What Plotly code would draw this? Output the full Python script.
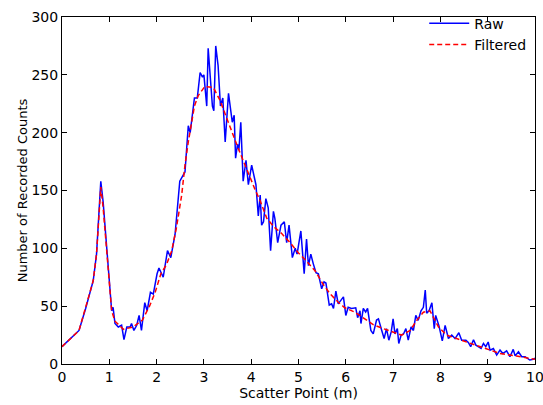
import plotly.graph_objects as go

# необработанные отсчёты (Raw)
raw_x = [0.00, 0.36, 0.50, 0.66, 0.73, 0.82, 0.87, 1.05, 1.08, 1.12, 1.19, 1.26, 1.31, 1.37, 1.44,
         1.47, 1.52, 1.58, 1.63, 1.68, 1.75, 1.80, 1.87, 1.93, 2.01, 2.05, 2.14, 2.23, 2.30, 2.39,
         2.49, 2.60, 2.67, 2.71, 2.80, 2.86, 2.92, 2.97, 3.00, 3.06, 3.09, 3.13, 3.18, 3.21, 3.25,
         3.30, 3.35, 3.40, 3.45, 3.52, 3.60, 3.64, 3.67, 3.71, 3.74, 3.78, 3.83, 3.89, 3.94, 4.01,
         4.10, 4.15, 4.19, 4.22, 4.26, 4.31, 4.36, 4.41, 4.47, 4.50, 4.56, 4.63, 4.70, 4.75, 4.80,
         4.87, 4.93, 4.97, 5.05, 5.12, 5.17, 5.21, 5.26, 5.31, 5.37, 5.42, 5.49, 5.54, 5.58, 5.65,
         5.70, 5.74, 5.79, 5.84, 5.90, 5.95, 6.00, 6.05, 6.12, 6.21, 6.25, 6.30, 6.32, 6.37, 6.42,
         6.46, 6.53, 6.58, 6.65, 6.69, 6.76, 6.81, 6.86, 6.91, 6.96, 7.00, 7.04, 7.09, 7.12, 7.17,
         7.22, 7.27, 7.32, 7.38, 7.43, 7.48, 7.53, 7.59, 7.64, 7.68, 7.71, 7.76, 7.82, 7.87, 7.90,
         7.97, 8.04, 8.10, 8.17, 8.24, 8.31, 8.39, 8.45, 8.54, 8.59, 8.64, 8.70, 8.75, 8.80, 8.86,
         8.91, 8.96, 9.01, 9.05, 9.12, 9.19, 9.26, 9.32, 9.40, 9.47, 9.54, 9.58, 9.65, 9.72, 9.79,
         9.86, 9.89, 9.96, 10.0]
raw_y = [15, 29, 48, 72, 95, 158, 140, 46, 49, 35, 32, 33.5, 21, 32, 32,
         35, 29, 33.5, 42, 29, 53, 46, 62, 60.5, 78, 83, 75, 98, 92, 112,
         158, 166, 206, 200, 230, 230, 252, 248, 250, 223, 273, 246, 223, 219, 275,
         258, 223, 230, 192, 234, 209, 215, 178, 190, 185, 209, 158, 176, 155, 172,
         155, 128, 146, 120, 123, 143, 135, 98, 132, 126, 105, 120, 123, 105, 120,
         92, 100, 95, 115, 78, 108, 85, 95, 87, 79, 78, 65, 71, 70, 51,
         52, 48, 63, 52, 55, 58, 42, 49, 48, 48.6, 40, 46, 35, 48, 45,
         48, 29, 26, 38, 39, 29, 22, 30.6, 20.6, 27.7, 39, 26, 30.6, 17.7, 25,
         26, 30.6, 20.6, 32, 29, 42, 37.7, 46, 49, 64, 44, 46, 53, 30.6, 42,
         33, 20, 33.4, 22, 25, 22, 27, 20.6, 20.6, 18.6, 15, 21, 16.3, 15, 13.4,
         17.7, 15, 19, 12, 13.4, 7.7, 12, 9, 11.4, 6.3, 12.6, 7, 10.6, 6.3, 6.3,
         4.3, 3.4, 4, 5]

# сглаженная кривая (Filtered)
filt_x = [0.00, 0.36, 0.66, 0.73, 0.82, 0.87, 1.05, 1.12, 1.30, 1.50, 1.70, 1.85, 1.97, 2.09, 2.21,
          2.32, 2.42, 2.53, 2.60, 2.67, 2.80, 2.88, 3.02, 3.20, 3.34, 3.45, 3.59, 3.73, 3.83, 3.97,
          4.08, 4.19, 4.33, 4.47, 4.64, 4.82, 5.00, 5.17, 5.35, 5.52, 5.67, 5.84, 5.98, 6.19, 6.40,
          6.58, 6.79, 6.97, 7.18, 7.36, 7.50, 7.64, 7.78, 7.96, 8.13, 8.34, 8.66, 8.98, 9.26, 9.61,
          9.93, 10.0]
filt_y = [15, 29, 72, 95, 153, 135, 46, 37, 30, 32, 38, 50, 62, 78, 86,
          98, 118, 146, 172, 192, 223, 232, 240, 239, 228, 216, 200, 186, 176, 161,
          151, 141, 126, 119, 113, 105, 96, 89, 80.6, 69, 60.6, 53.4, 48.6, 44.8, 39,
          34, 30.6, 27.7, 25, 29, 37.7, 44.8, 46, 32, 25, 22, 17.7, 13.4, 9.1, 6.9,
          4, 4]

fig = go.Figure()
fig.add_trace(go.Scatter(x=raw_x, y=raw_y, name='Raw', mode='lines',
                         line=dict(color='#0000ff', width=1.5)))
fig.add_trace(go.Scatter(x=filt_x, y=filt_y, name='Filtered', mode='lines',
                         line=dict(color='#ff0000', width=1.5, dash='5px,3px')))

axis_style = dict(showgrid=False, zeroline=False, showline=True, linecolor='black', linewidth=1,
                  mirror='ticks', ticks='inside', ticklen=5, tickcolor='black', automargin=False,
                  ticklabeloverflow='allow', tickfont=dict(size=14, color='black'))

fig.update_layout(width=543, height=405,
                  margin=dict(l=62, r=8, t=14, b=41),
                  plot_bgcolor='white', paper_bgcolor='white',
                  font=dict(family='DejaVu Sans', size=14, color='black'),
                  showlegend=True,
                  legend=dict(x=0.992, y=1.027, xanchor='right', yanchor='top',
                              bgcolor='rgba(0,0,0,0)', font=dict(size=14),
                              tracegroupgap=0, itemwidth=40))
fig.update_xaxes(range=[0, 10], dtick=1,
                 title=dict(text='Scatter Point (m)', standoff=0, font=dict(size=14)), **axis_style)
fig.update_yaxes(range=[0, 300], dtick=50,
                 title=dict(text='Number of Recorded Counts', standoff=0, font=dict(size=13)), **axis_style)
# убираем стандартный отступ body, чтобы фигура совпала с окном; панель инструментов не нужна
fig.write_html("out.html", config={'displayModeBar': False},
               post_script="document.body.style.margin='0';")
